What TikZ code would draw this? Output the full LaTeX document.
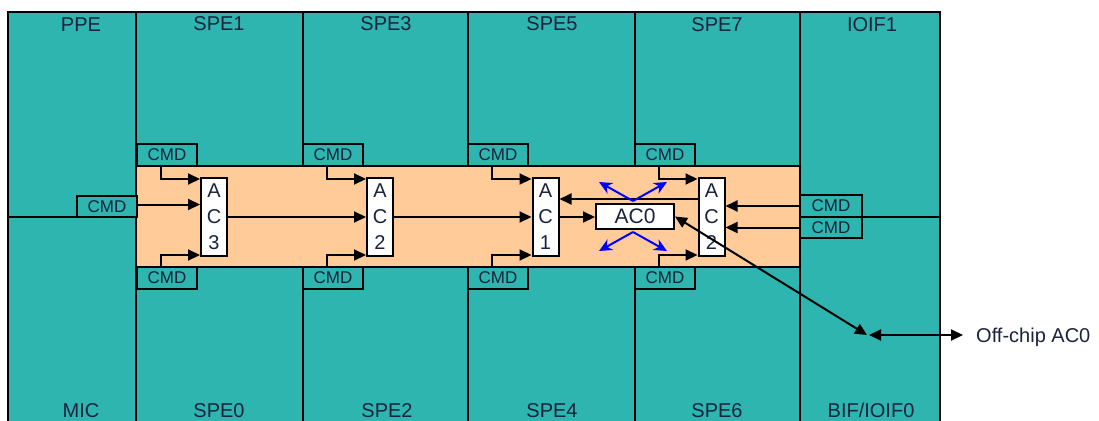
\documentclass[tikz,border=0pt]{standalone}
\usepackage{fontspec}
\setmainfont{Liberation Sans}
\usetikzlibrary{arrows.meta,calc}
\definecolor{teal1}{RGB}{46,181,176}
\definecolor{peach}{RGB}{255,204,153}
\definecolor{ink}{RGB}{25,35,60}
\begin{document}
\begin{tikzpicture}[x=1pt,y=-1pt,
  unit/.style={draw=black,line width=2pt,fill=teal1},
  band/.style={draw=black,line width=2pt,fill=peach},
  cmd/.style={draw=black,line width=2pt,fill=teal1,minimum width=60pt,minimum height=22pt,inner sep=0pt,font=\fontsize{17}{17}\selectfont,text=ink},
  acbox/.style={draw=black,line width=2pt,fill=white,minimum width=26pt,minimum height=78pt,inner sep=0pt,align=center,font=\fontsize{20}{26}\selectfont,text=ink},
  aczero/.style={draw=black,line width=2pt,fill=white,minimum width=78pt,minimum height=25pt,inner sep=0pt,font=\fontsize{21}{21}\selectfont,text=ink},
  lbl/.style={font=\fontsize{20}{20}\selectfont,text=ink,anchor=base},
  arr/.style={line width=2pt,-{Triangle[length=12pt,width=11pt]}},
  barr/.style={draw=blue,line width=2pt,-{Stealth[length=13pt,width=12pt]}},
  darr/.style={line width=2pt,{Triangle[length=12pt,width=11pt]}-{Triangle[length=12pt,width=11pt]}}
]
\useasboundingbox (0,0) rectangle (1099,420);
\clip (0,0) rectangle (1099,420);

% units
\path[unit] (8,12) rectangle (136,217);
\path[unit] (8,217) rectangle (136,445);
\path[unit] (136,12) rectangle (303,166);
\path[unit] (303,12) rectangle (468,166);
\path[unit] (468,12) rectangle (635,166);
\path[unit] (635,12) rectangle (800,166);
\path[unit] (136,267) rectangle (303,445);
\path[unit] (303,267) rectangle (468,445);
\path[unit] (468,267) rectangle (635,445);
\path[unit] (635,267) rectangle (800,445);
\path[unit] (800,12) rectangle (940,217);
\path[unit] (800,217) rectangle (940,445);
\path[band] (136,166) rectangle (800,267);

% unit labels
\node[lbl] (ppe) at (81,32) {PPE};
\node[lbl] (spe1) at (219,31) {SPE1};
\node[lbl] (spe3) at (386,31) {SPE3};
\node[lbl] (spe5) at (552,31) {SPE5};
\node[lbl] (spe7) at (717,32) {SPE7};
\node[lbl] (ioif1) at (872,32) {IOIF1};
\node[lbl] (mic) at (81,417.5) {MIC};
\node[lbl] (spe0) at (219,417) {SPE0};
\node[lbl] (spe2) at (387,417) {SPE2};
\node[lbl] (spe4) at (552,417.5) {SPE4};
\node[lbl] (spe6) at (717,417) {SPE6};
\node[lbl] (bif) at (871,417) {BIF/IOIF0};

% CMD boxes
\node[cmd] (cmdt1) at (167,155) {CMD};
\node[cmd] (cmdt2) at (333,155) {CMD};
\node[cmd] (cmdt3) at (498,155) {CMD};
\node[cmd] (cmdt4) at (665,155) {CMD};
\node[cmd] (cmdb1) at (167,278) {CMD};
\node[cmd] (cmdb2) at (333,278) {CMD};
\node[cmd] (cmdb3) at (498,278) {CMD};
\node[cmd] (cmdb4) at (665,278) {CMD};
\node[cmd,minimum height=21pt] (cmdl) at (107,206.5) {CMD};
\node[cmd,minimum width=62pt] (cmdr1) at (831,206) {CMD};
\node[cmd,minimum width=62pt,minimum height=21pt] (cmdr2) at (831,227.5) {CMD};

% AC units
\node[acbox] (ac3) at (214,217) {A\\C\\3};
\node[acbox] (ac2l) at (380,217) {A\\C\\2};
\node[acbox] (ac1) at (545.5,217) {A\\C\\1};
\node[acbox] (ac2r) at (711.5,217) {A\\C\\2};
\node[aczero] (ac0) at (635,216.5) {AC0};

% CMD stubs
\foreach \c/\a in {cmdt1/ac3,cmdt2/ac2l,cmdt3/ac1,cmdt4/ac2r}{
  \draw[arr] ($(\c.south west)+(25,0)$) |- ($(\a.north west)+(0,2)$);
}
\foreach \c/\a in {cmdb1/ac3,cmdb2/ac2l,cmdb3/ac1,cmdb4/ac2r}{
  \draw[arr] ($(\c.north west)+(25,0)$) |- ($(\a.south west)+(0,-2)$);
}
\draw[arr] ($(cmdl.east)+(0,-2)$) -- ($(cmdl.east -| ac3.west)+(0,-2)$);
\draw[arr] (ac3) -- (ac2l);
\draw[arr] (ac2l) -- (ac1);
\draw[arr] (ac1.east) -- (ac1.east -| ac0.west);
\draw[arr] ($(ac2r.west)+(0,-18)$) -- ($(ac1.east)+(0,-18)$);
\draw[arr] (cmdr1.west) -- (cmdr1.west -| ac2r.east);
\draw[arr] (cmdr2.west) -- (cmdr2.west -| ac2r.east);

% blue arrows around AC0
\draw[barr] ($(ac0.north)+(-2,-2)$) -- ++(-34,-19);
\draw[barr] ($(ac0.north)+(-2,-2)$) -- ++(34,-19);
\draw[barr] ($(ac0.south)+(-2,2)$) -- ++(-34,19);
\draw[barr] ($(ac0.south)+(-2,2)$) -- ++(34,19);

% off-chip
\coordinate (oc) at (867,335);
\coordinate (oe) at (963,335);
\node[font=\fontsize{20}{20}\selectfont,text=ink,anchor=base west,inner sep=0pt] (off) at (976,342) {Off-chip AC0};
\draw[darr] (ac0.east) -- (oc);
\draw[darr] ($(oc)+(2,0)$) -- (oe);
\end{tikzpicture}
\end{document}
